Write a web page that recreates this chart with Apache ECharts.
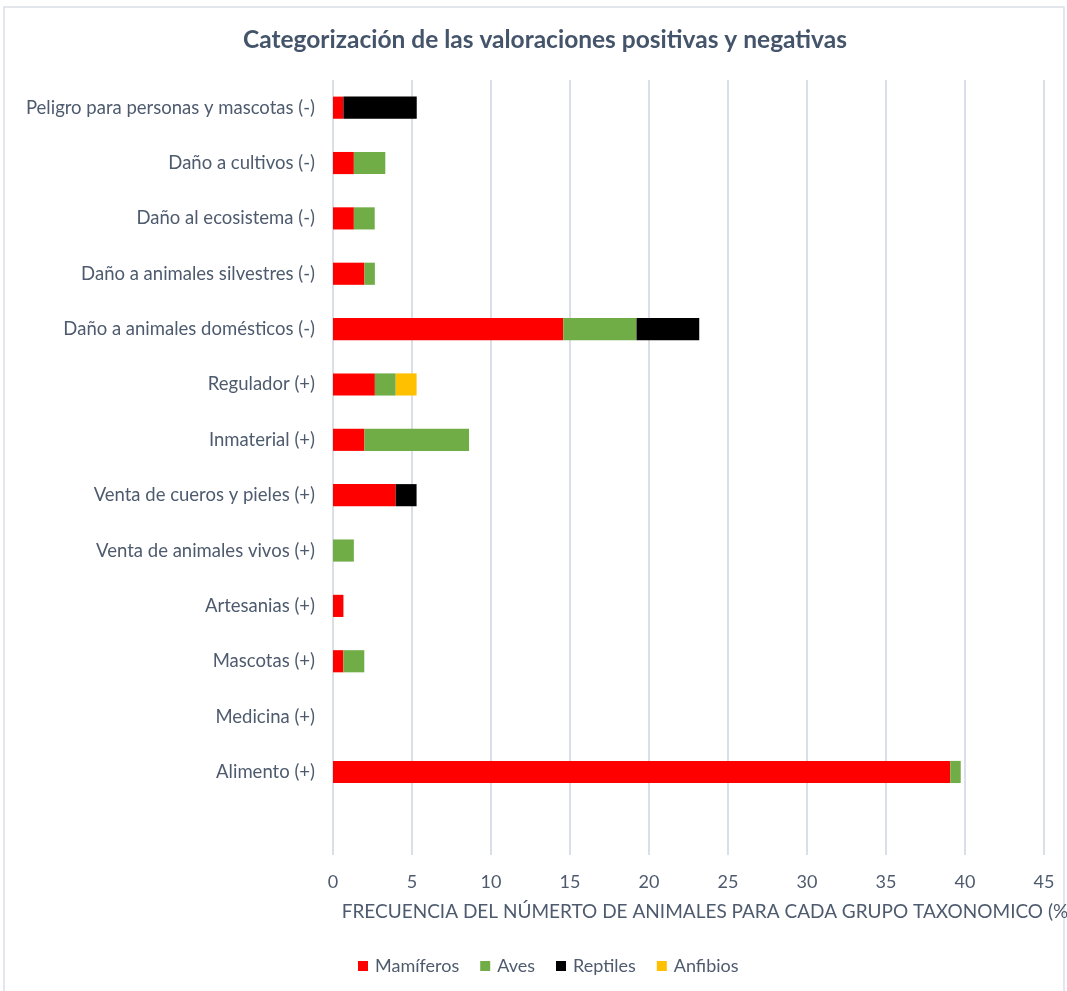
<!DOCTYPE html>
<html>
<head>
<meta charset="utf-8">
<script src="https://cdn.jsdelivr.net/npm/echarts@6/dist/echarts.min.js"></script>
<style>
  html, body { margin: 0; padding: 0; background: #fff; }
  #chart { width: 1067px; height: 991px; }
</style>
</head>
<body>
<div id="chart"></div>
<script>
// Categories, listed bottom to top (the first, blank entry leaves an empty row below "Alimento")
const categories = [
  '',
  'Alimento (+)',
  'Medicina (+)',
  'Mascotas (+)',
  'Artesanias (+)',
  'Venta de animales vivos (+)',
  'Venta de cueros y pieles (+)',
  'Inmaterial (+)',
  'Regulador (+)',
  'Daño a animales domésticos (-)',
  'Daño a animales silvestres (-)',
  'Daño al ecosistema (-)',
  'Daño a cultivos (-)',
  'Peligro para personas y mascotas (-)'
];

// Percentages per taxonomic group (same order as categories)
const mamiferos = [null, 39.07, 0, 0.66, 0.66, 0, 3.97, 1.99, 2.65, 14.57, 1.99, 1.32, 1.32, 0.66];
const aves      = [null, 0.66, 0, 1.32, 0, 1.32, 0, 6.62, 1.32, 4.64, 0.66, 1.32, 1.99, 0];
const reptiles  = [null, 0, 0, 0, 0, 0, 1.32, 0, 0, 3.97, 0, 0, 0, 4.64];
const anfibios  = [null, 0, 0, 0, 0, 0, 0, 0, 1.32, 0, 0, 0, 0, 0];

const xTicks = [0, 5, 10, 15, 20, 25, 30, 35, 40, 45];

const seriesDefs = [
  { name: 'Mamíferos', data: mamiferos, color: '#FF0000' },
  { name: 'Aves',      data: aves,      color: '#70AD47' },
  { name: 'Reptiles',  data: reptiles,  color: '#000000' },
  { name: 'Anfibios',  data: anfibios,  color: '#FFC000' }
];

const textColor = '#4E5B6E';
const gridColor = '#D9DEE7';

const chart = echarts.init(document.getElementById('chart'), null, { renderer: 'canvas' });

chart.setOption({
  backgroundColor: '#fff',
  animation: false,
  graphic: [{
    type: 'rect',
    shape: { x: 4, y: 7, width: 1060, height: 1000 },
    style: { fill: 'none', stroke: '#DADFE6', lineWidth: 1.5 },
    silent: true
  }],
  title: {
    text: 'Categorización de las valoraciones positivas y negativas',
    left: 238,
    top: 23,
    textStyle: {
      fontFamily: 'Lato',
      fontSize: 24.5,
      fontWeight: 'bold',
      color: '#44546A'
    }
  },
  legend: {
    bottom: 11,
    left: 353,
    itemWidth: 10,
    itemHeight: 10,
    itemGap: 21,
    icon: 'rect',
    textStyle: { fontFamily: 'Lato', fontSize: 18, color: textColor, padding: [0, 0, 0, 2] },
    data: seriesDefs.map(s => s.name)
  },
  grid: {
    left: 333,
    right: 23,
    top: 80,
    bottom: 136,
    containLabel: false,
    outerBoundsMode: 'none'
  },
  xAxis: {
    type: 'value',
    min: xTicks[0],
    max: xTicks[xTicks.length - 1],
    interval: 5,
    name: 'FRECUENCIA DEL NÚMERTO DE ANIMALES PARA CADA GRUPO TAXONOMICO (%)',
    nameLocation: 'middle',
    nameGap: 47,
    nameTextStyle: {
      fontFamily: 'Lato',
      fontSize: 19,
      color: textColor,
      padding: [0, 0, 0, 38]
    },
    axisLine: { show: false },
    axisTick: { show: false },
    axisLabel: {
      fontFamily: 'Lato',
      fontSize: 18,
      color: textColor,
      margin: 18
    },
    splitLine: { show: true, lineStyle: { color: gridColor, width: 2 } }
  },
  yAxis: {
    type: 'category',
    data: categories,
    axisLine: { show: false },
    axisTick: { show: false },
    axisLabel: {
      fontFamily: 'Lato',
      fontSize: 18.5,
      color: textColor,
      margin: 18
    },
    splitLine: { show: false }
  },
  series: seriesDefs.map(s => ({
    name: s.name,
    type: 'bar',
    stack: 'total',
    barWidth: '40%',
    itemStyle: { color: s.color },
    data: s.data
  }))
});
</script>
</body>
</html>
